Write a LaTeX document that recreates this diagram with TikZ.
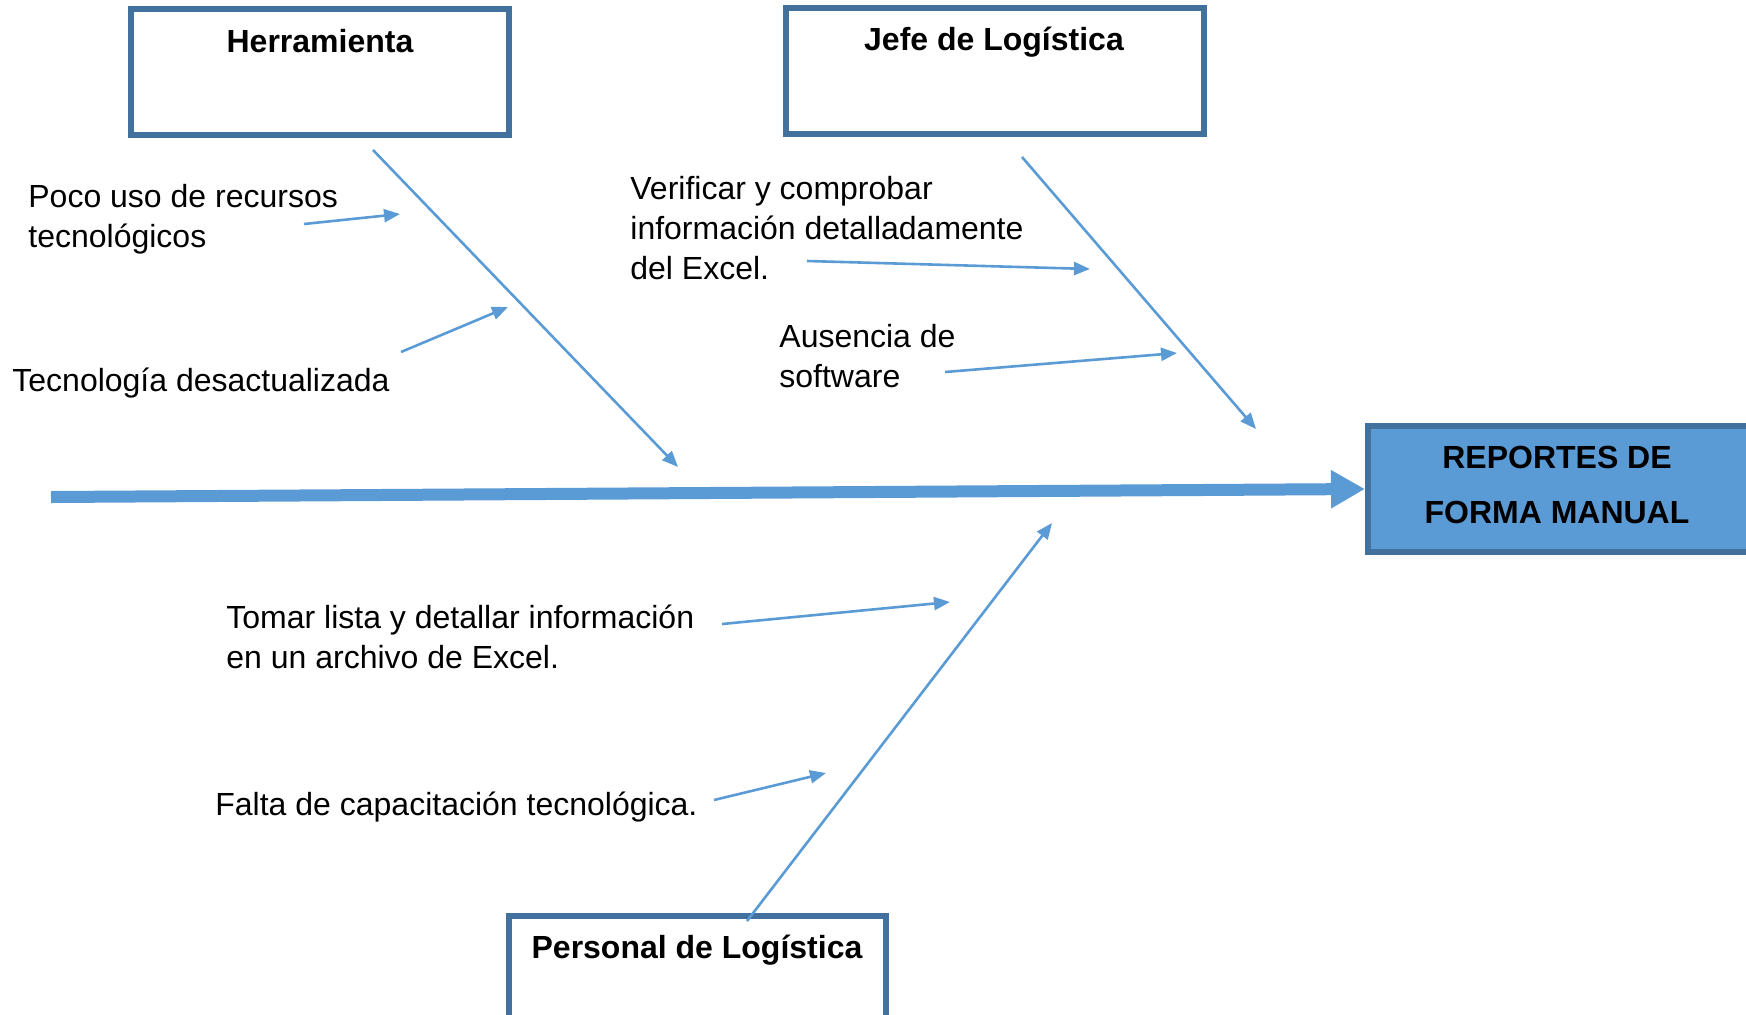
\documentclass[tikz,border=0pt]{standalone}
\usepackage{fontspec}
\setmainfont{Liberation Sans}
\usetikzlibrary{arrows.meta}
\definecolor{linkblue}{HTML}{5B9BD5}
\definecolor{frameblue}{HTML}{41719C}

\begin{document}
\begin{tikzpicture}[x=0.5pt,y=-0.5pt,
  catbox/.style={draw=frameblue, line width=3pt, fill=white, inner sep=0pt, rectangle},
  effectbox/.style={draw=frameblue, line width=3pt, fill=linkblue, inner sep=0pt, rectangle},
  title/.style={font=\fontsize{16}{20}\selectfont\bfseries, inner sep=0pt, anchor=base},
  cause/.style={font=\fontsize{16}{20}\selectfont, inner sep=0pt, align=left},
  feeder/.style={draw=linkblue, line width=1.3pt, -{Triangle[length=8pt,width=6.5pt]}},
  spine/.style={draw=linkblue, line width=6pt, -{Triangle[length=17pt,width=18pt]}}]

\useasboundingbox (0,0) rectangle (1746,1014);
\clip (0,0) rectangle (1746,1014);

% category boxes
\node[catbox, minimum width=189pt, minimum height=63pt] (herr) at (320,72) {};
\node[title] (herrT) at (320,52) {Herramienta};
\node[catbox, minimum width=209pt, minimum height=63pt] (jefe) at (995,71) {};
\node[title] (jefeT) at (994,50) {Jefe de Logística};
\node[catbox, minimum width=188.5pt, minimum height=57pt] (pers) at (697.5,973) {};
\node[title] (persT) at (697,958) {Personal de Logística};

% effect box
\node[effectbox, minimum width=196pt, minimum height=63pt] (effect) at (1564,489) {};
\node[font=\fontsize{16}{27.5}\selectfont\bfseries, inner sep=0pt, align=center, anchor=north]
  (effectT) at (1557,446) {REPORTES DE\\FORMA MANUAL};

% spine
\coordinate (tail) at (51,497);
\draw[spine] (tail) -- (effect.west);

% main bones
\coordinate (hA) at (373,150);  \coordinate (hB) at (678,467);
\coordinate (jA) at (1022,157); \coordinate (jB) at (1256,429);
\coordinate (pA) at (747,921);  \coordinate (pB) at (1052,523);
\draw[feeder] (hA) -- (hB);
\draw[feeder] (jA) -- (jB);
\draw[feeder] (pA) -- (pB);

% causes
\node[cause, anchor=north west] (c1) at (28,184) {Poco uso de recursos\\tecnológicos};
\node[cause, anchor=base west] (c2) at (12,391) {Tecnología desactualizada};
\node[cause, anchor=north west] (c3) at (630,176) {Verificar y comprobar\\información detalladamente\\del Excel.};
\node[cause, anchor=north west] (c4) at (779,324) {Ausencia de\\software};
\node[cause, anchor=north west] (c5) at (226,605) {Tomar lista y detallar información\\en un archivo de Excel.};
\node[cause, anchor=base west] (c6) at (215,815) {Falta de capacitación tecnológica.};

% cause arrows
\coordinate (a1s) at (304,224);  \coordinate (a1e) at (400,214);
\coordinate (a2s) at (401,352);  \coordinate (a2e) at (508,307);
\coordinate (a3s) at (807,261);  \coordinate (a3e) at (1090,269);
\coordinate (a4s) at (945,372);  \coordinate (a4e) at (1177,353);
\coordinate (a5s) at (722,624);  \coordinate (a5e) at (950,602);
\coordinate (a6s) at (714,800);  \coordinate (a6e) at (826,773);
\draw[feeder] (a1s) -- (a1e);
\draw[feeder] (a2s) -- (a2e);
\draw[feeder] (a3s) -- (a3e);
\draw[feeder] (a4s) -- (a4e);
\draw[feeder] (a5s) -- (a5e);
\draw[feeder] (a6s) -- (a6e);
\end{tikzpicture}
\end{document}
